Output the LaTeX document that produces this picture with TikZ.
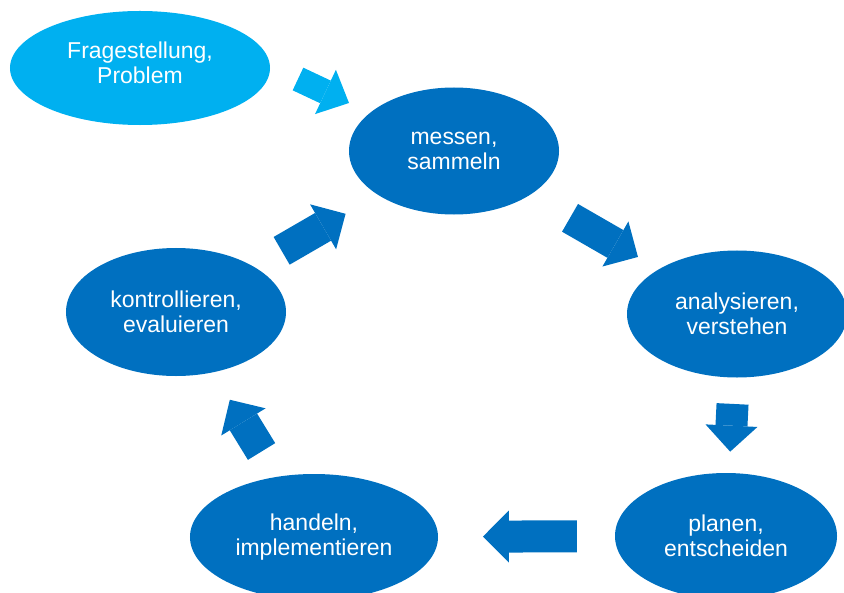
\documentclass[tikz,border=0pt]{standalone}
\usepackage{fontspec}
\setmainfont{Liberation Sans}
\usetikzlibrary{shapes.geometric,arrows.meta,calc}
\definecolor{dunkelblau}{HTML}{0070C0}
\definecolor{hellblau}{HTML}{00B0F0}
\begin{document}
\begin{tikzpicture}[x=0.03cm,y=-0.03cm]
	\tikzset{phasetext/.style={text=white,align=center,font=\fontsize{19.6pt}{21.5pt}\selectfont},
		phase/.style={ellipse,fill=dunkelblau,inner sep=0pt,phasetext},
		pfeil/.style={dunkelblau,line width=0.96cm,-{Triangle[width=1.56cm,length=0.78cm,line width=0pt]}},
		pfeilhell/.style={hellblau,line width=0.75cm,-{Triangle[width=1.47cm,length=0.78cm,line width=0pt]}}}
	\useasboundingbox (0,0) rectangle (844,593);
	\clip (0,0) rectangle (844,593);
	%%Ellipsen
	\node[phase,fill=hellblau,minimum width=7.8cm,minimum height=3.42cm] (frage) at (140,68) {};
	\node[phasetext] (frageText) at ([yshift=4.5pt]frage.center) {Fragestellung,\\Problem};
	\node[phase,minimum width=6.3cm,minimum height=3.81cm] (messen) at (454,151) {messen,\\sammeln};
	\node[phase,minimum width=6.6cm,minimum height=3.81cm] (analyse) at (737,314) {analysieren,\\verstehen};
	\node[phase,minimum width=6.66cm,minimum height=3.78cm] (planen) at (726,536) {planen,\\entscheiden};
	\node[phase,minimum width=7.44cm,minimum height=3.78cm] (handeln) at (314,537) {handeln,\\implementieren};
	\node[phase,minimum width=6.6cm,minimum height=3.84cm] (kontrolle) at (176,312) {kontrollieren,\\evaluieren};
	%%Pfeile
	\coordinate (q1) at (298,79);
	\coordinate (q2) at (349,103);
	\draw[pfeilhell] (q1)--(q2);
	\draw[pfeil] ($(messen)!0.41!(analyse)$)--($(messen)!0.65!(analyse)$);
	\draw[pfeil] ($(analyse)!0.405!(planen)$)--($(analyse)!0.62!(planen)$);
	\draw[pfeil] ($(planen)!0.362!(handeln)$)--($(planen)!0.59!(handeln)$);
	\draw[pfeil] ($(handeln)!0.38!(kontrolle)$)--($(handeln)!0.61!(kontrolle)$);
	\draw[pfeil] ($(kontrolle)!0.38!(messen)$)--($(kontrolle)!0.61!(messen)$);
\end{tikzpicture}
\end{document}
